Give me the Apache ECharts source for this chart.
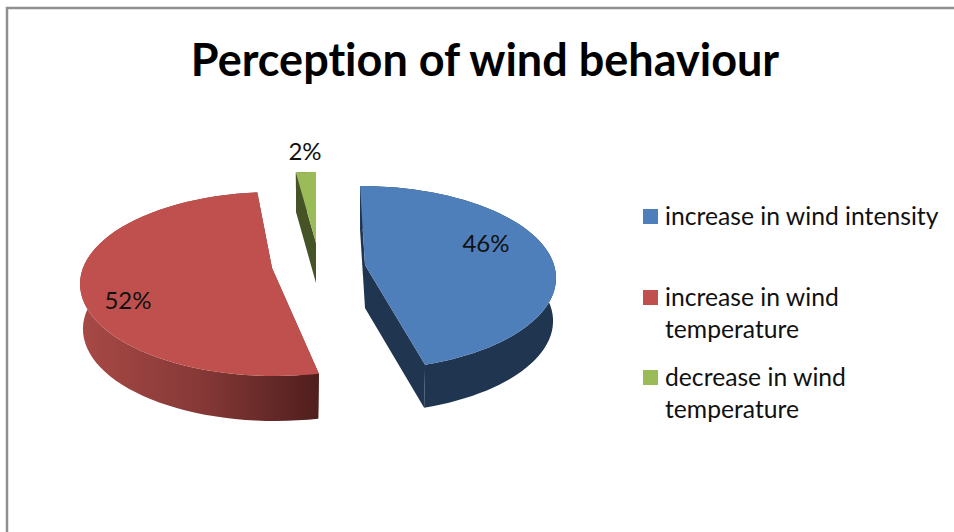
<!DOCTYPE html>
<html>
<head>
<meta charset="utf-8">
<style>
  html, body { margin: 0; padding: 0; background: #fff; }
  #chart { width: 954px; height: 532px; }
  #chart text { font-variant-ligatures: none; }
</style>
<script src="https://cdn.jsdelivr.net/npm/echarts@6/dist/echarts.min.js"></script>
</head>
<body>
<div id="chart"></div>
<script>
var chartTitle = "Perception of wind behaviour";
var categories = ["increase in wind intensity", "increase in wind\ntemperature", "decrease in wind\ntemperature"];
var shares = [46, 52, 2];
var topColors = ["#4f7fbb", "#bf504d", "#9bbb59"];

var FONT = "Lato";
var STEPS = 60;
var BOTTOM_SHRINK = 0.985; // lower rim looks a bit narrower than the top one

// where each exploded slice sits in the fake 3d view, trimStart/trimEnd nudge the arc ends (deg)
var views = [
  { cx: 360, cy: 278, rx: 196, ry: 92, apexX: 5, apexY: -13, depth: 43, trimStart: 0, trimEnd: -5, labelX: 486, labelY: 242 },
  { cx: 275, cy: 284, rx: 195, ry: 92, apexX: -3, apexY: -16, depth: 45, trimStart: 1.4, trimEnd: 2, labelX: 128, labelY: 299 },
  { cx: 316, cy: 264, rx: 196, ry: 92, apexX: 0, apexY: -21, depth: 40, trimStart: 1.3, trimEnd: 0, labelX: 305, labelY: 150 }
];
var sideFills = [
  "#1f3550",
  new echarts.graphic.LinearGradient(80, 0, 319, 0, [
    { offset: 0, color: "#a84946" },
    { offset: 0.5, color: "#863937" },
    { offset: 1, color: "#4f1e1d" }
  ], true),
  "#465327"
];

function arcPoints(v, from, to, shift, scale) {
  var pts = [];
  for (var i = 0; i <= STEPS; i++) {
    var a = (from + (to - from) * i / STEPS) * Math.PI / 180;
    pts.push([v.cx + v.rx * scale * Math.sin(a), v.cy - v.ry * Math.cos(a) + shift]);
  }
  return pts;
}

function renderSlice(params, api) {
  var idx = params.dataIndex;
  var v = views[idx];
  var before = 0;
  for (var i = 0; i < idx; i++) before += shares[i];
  var from = before * 3.6 + v.trimStart;
  var to = (before + api.value(0)) * 3.6 + v.trimEnd;

  var arc = arcPoints(v, from, to, 0, 1);
  var arcLow = arcPoints(v, from, to, v.depth, BOTTOM_SHRINK);
  var apex = [v.cx + v.apexX, v.cy + v.apexY];
  var apexLow = [apex[0], apex[1] + v.depth];
  var first = arc[0], last = arc[arc.length - 1];
  var side = { fill: sideFills[idx] };

  return {
    type: "group",
    children: [
      { type: "polygon", shape: { points: arc.concat(arcLow.slice().reverse()) }, style: side },
      { type: "polygon", shape: { points: [first, arcLow[0], apexLow, apex] }, style: side },
      { type: "polygon", shape: { points: [last, arcLow[arcLow.length - 1], apexLow, apex] }, style: side },
      { type: "polygon", shape: { points: [apex].concat(arc) }, style: { fill: topColors[idx] } },
      {
        type: "text",
        z2: 10,
        style: {
          text: api.value(0) + "%",
          x: v.labelX,
          y: v.labelY,
          align: "center",
          verticalAlign: "middle",
          font: "24px " + FONT,
          fill: "#111"
        }
      }
    ]
  };
}

// legend keeps its swatch on the first text line, so it is drawn by hand
var legendRows = [216, 297, 377];
var legendItems = [];
categories.forEach(function (name, i) {
  legendItems.push({
    type: "rect",
    shape: { x: 643, y: legendRows[i] - 7, width: 15, height: 15 },
    style: { fill: topColors[i] }
  });
  legendItems.push({
    type: "text",
    style: {
      text: name,
      x: 665,
      y: legendRows[i] - 17,
      font: "24.7px " + FONT,
      lineHeight: 32,
      fill: "#111"
    }
  });
});

var chart = echarts.init(document.getElementById("chart"), null, { renderer: "svg" });
chart.setOption({
  animation: false,
  backgroundColor: "#fff",
  title: {
    text: chartTitle,
    left: 480,
    top: 31,
    textAlign: "center",
    textStyle: { fontFamily: FONT, fontSize: 45, fontWeight: "bold", color: "#000" }
  },
  graphic: [
    {
      type: "polyline",
      shape: { points: [[7, 532], [7, 8], [954, 8]] },
      style: { stroke: "#8f8f8f", lineWidth: 2.5, fill: null }
    }
  ].concat(legendItems),
  series: [
    {
      type: "custom",
      coordinateSystem: "none",
      renderItem: renderSlice,
      data: shares.map(function (s) { return [s]; })
    }
  ]
});
</script>
</body>
</html>
